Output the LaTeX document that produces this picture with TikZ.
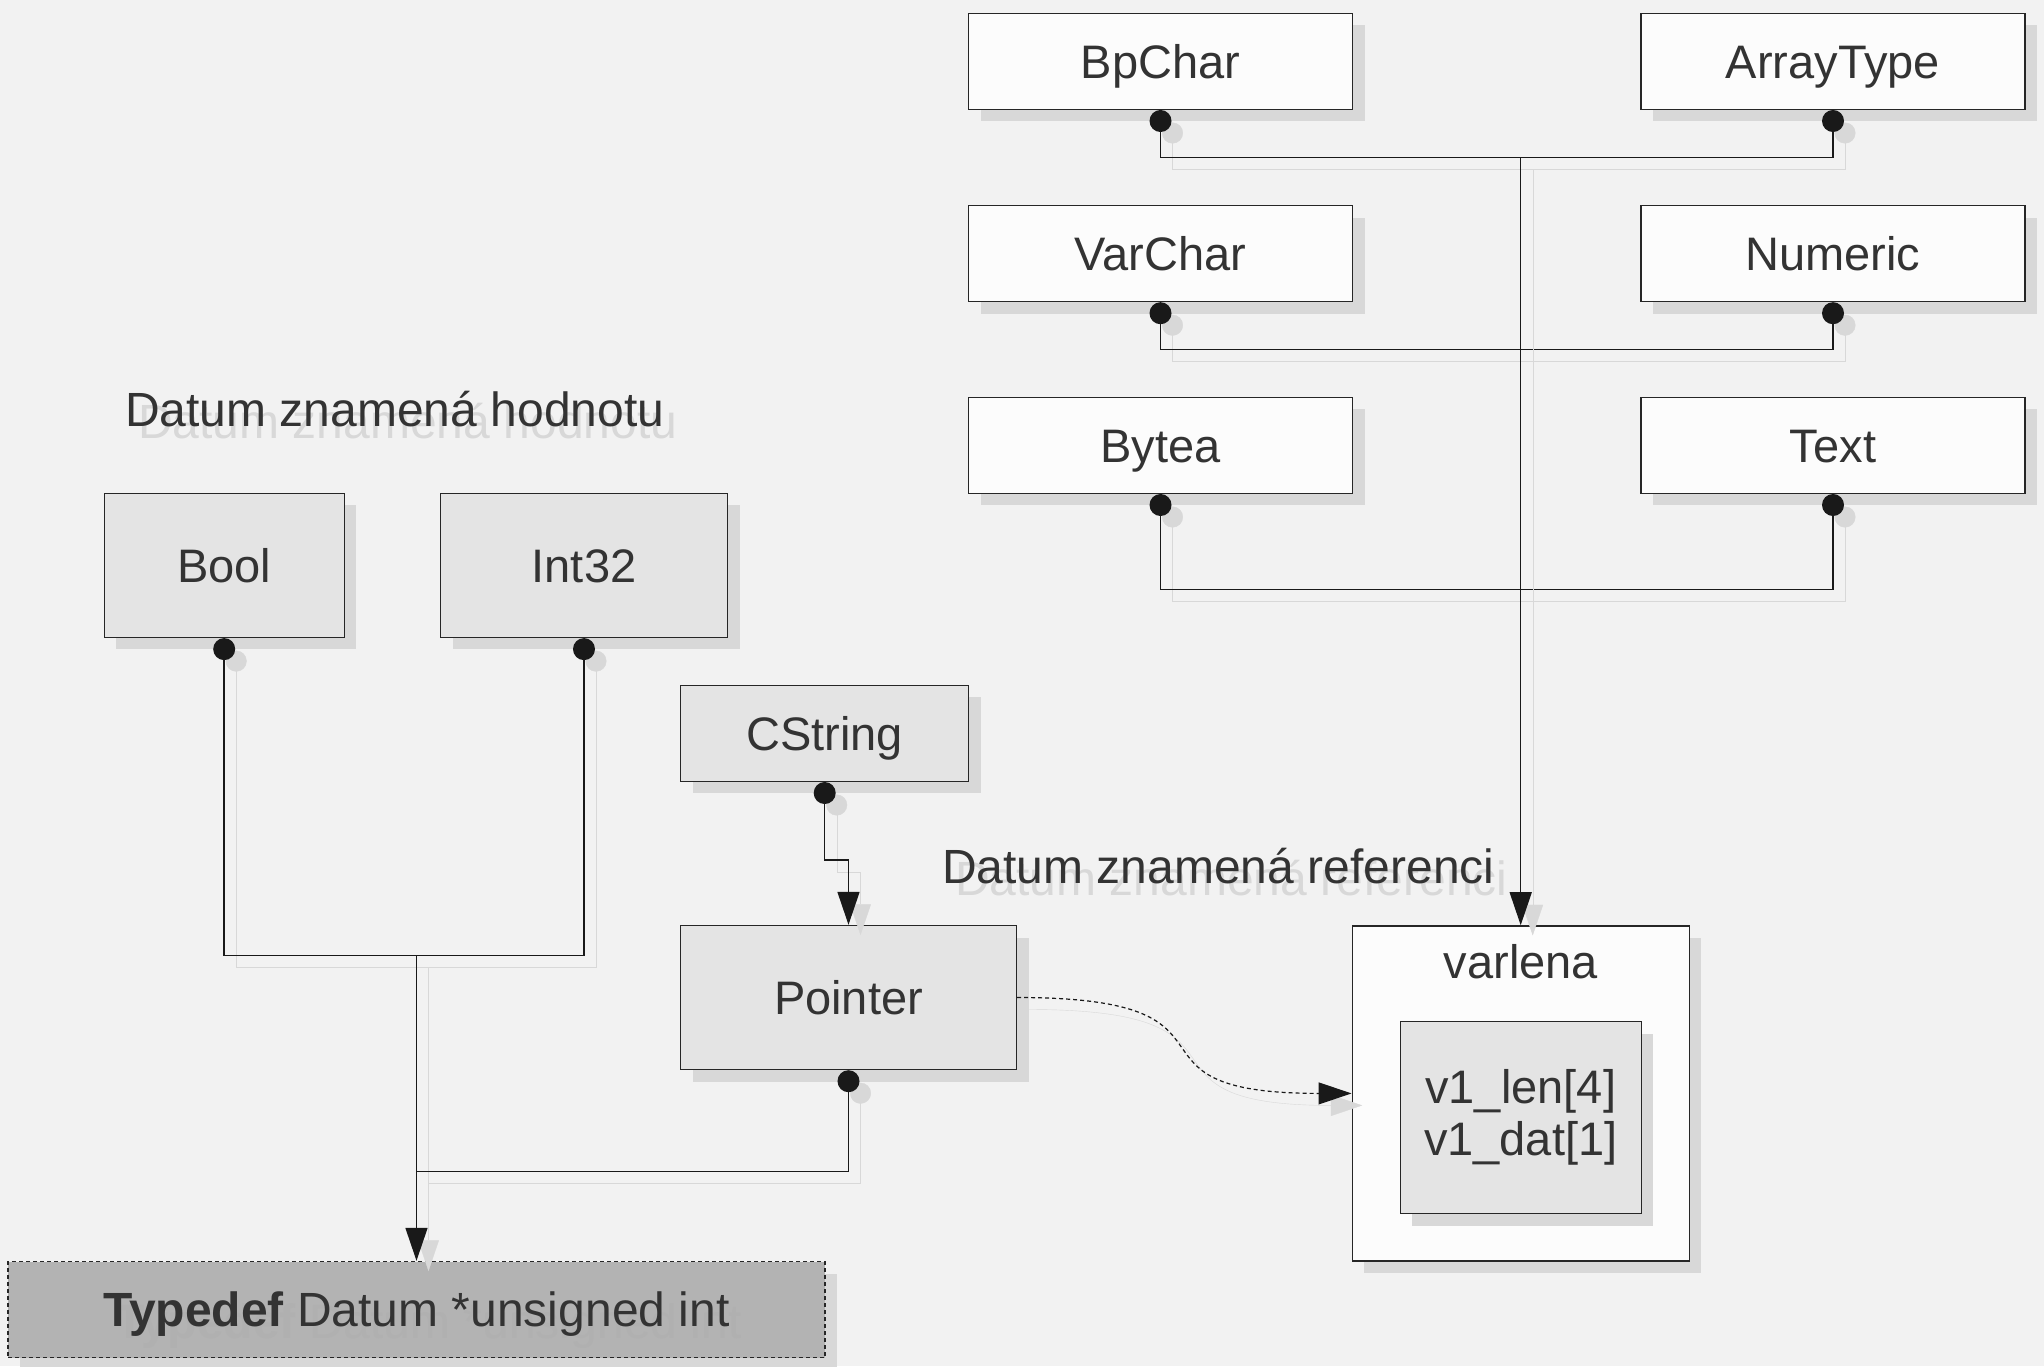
\documentclass[tikz,border=0pt]{standalone}
\usepackage{fontspec}
\setmainfont{Liberation Sans}
\usetikzlibrary{arrows.meta,shadows}

\definecolor{pozadi}{HTML}{F2F2F2}
\definecolor{stin}{HTML}{D8D8D8}
\definecolor{bila}{HTML}{FCFCFC}
\definecolor{seda}{HTML}{E4E4E4}
\definecolor{tmava}{HTML}{B3B3B3}
\definecolor{popis}{HTML}{333333}

\begin{document}
\begin{tikzpicture}[x=1pt,y=-1pt,
  ramec/.style={draw=black!85, line width=1.4pt, inner sep=0pt, text=popis,
    font=\fontsize{47}{52}\selectfont,
    drop shadow={shadow xshift=12pt, shadow yshift=-12pt, fill=stin, opacity=1}},
  typ/.style={ramec, fill=bila, text height=33.6pt, text depth=0pt,
    minimum width=384pt, minimum height=96pt},
  hodnota/.style={ramec, fill=seda, text height=33.6pt, text depth=0pt},
  nadpis/.style={anchor=base west, inner sep=0pt, text=popis,
    font=\fontsize{48}{52}\selectfont},
  spoj/.style={line width=1.5pt, black!90,
    preaction={draw=stin, transform canvas={shift={(12pt,-12pt)}}}},
  tecka/.tip={Circle[length=22pt]},
  sipka/.tip={Triangle[length=33pt,width=22pt]}]
\useasboundingbox (0,0) rectangle (2044,1366);
\fill[pozadi] (0,0) rectangle (2044,1366);

% typy predavane referenci
\node[typ] (bpchar) at (1160.5,61.3) {BpChar};
\node[typ] (arraytype) at (1833,61.3) {ArrayType};
\node[typ] (varchar) at (1160.5,253.5) {VarChar};
\node[typ] (numeric) at (1833,253.5) {Numeric};
\node[typ] (bytea) at (1160.5,445.3) {Bytea};
\node[typ] (text) at (1833,445.3) {Text};

% typy predavane hodnotou
\node[hodnota, minimum width=240pt, minimum height=144pt] (bool) at (224.2,565.4) {Bool};
\node[hodnota, minimum width=287pt, minimum height=144pt] (int32) at (584,565.4) {Int32};
\node[hodnota, minimum width=288pt, minimum height=96pt] (cstring) at (824.7,733.3) {CString};
\node[hodnota, minimum width=336pt, minimum height=144pt] (pointer) at (848.5,997.5) {Pointer};

\node[ramec, fill=bila, minimum width=337pt, minimum height=335pt] (varlena) at (1520.7,1093.4) {};
\node[nadpis, anchor=base, font=\fontsize{47}{52}\selectfont] (varlenapopis) at (1521,978.3) {varlena};
\node[ramec, fill=seda, align=center, minimum width=241pt, minimum height=192pt] (pole) at (1520.7,1117.5) {v1\_len[4]\\v1\_dat[1]};

\node[ramec, fill=tmava, dash pattern=on 4pt off 3pt, minimum width=817pt, minimum height=96pt] (typedef) at (416.5,1309.5) {};
\node[nadpis, anchor=center, text=black!31, text height=34pt, text depth=0pt] (typedefstin) at (428.5,1321.5) {{\bfseries Typedef} Datum *unsigned int};
\node[nadpis, anchor=center, text height=34pt, text depth=0pt] (typedefpopis) at (typedef) {{\bfseries Typedef} Datum *unsigned int};

\node[nadpis, text=stin] (hodnotustin) at (138,438) {Datum znamená hodnotu};
\node[nadpis] (hodnotu) at (125,426) {Datum znamená hodnotu};
\node[nadpis, text=stin] (referencistin) at (955,895) {Datum znamená referenci};
\node[nadpis] (referenci) at (942,883) {Datum znamená referenci};

\coordinate (sber1) at (1520.7,157.5);
\coordinate (sber2) at (1520.7,349.3);
\coordinate (sber3) at (1520.7,589.3);
\coordinate (sber4) at (416.5,955.3);
\coordinate (sber5) at (416.5,1171.3);

\draw[spoj, tecka-tecka] (bpchar.south) |- (sber1) -| (arraytype.south);
\draw[spoj, tecka-tecka] (varchar.south) |- (sber2) -| (numeric.south);
\draw[spoj, tecka-tecka] (bytea.south) |- (sber3) -| (text.south);
\draw[spoj, -sipka] (sber1) -- (varlena.north);

\draw[spoj, tecka-tecka] (bool.south) |- (sber4) -| (int32.south);
\draw[spoj, -sipka] (sber4) -- (typedef.north);
\draw[spoj, tecka-] (pointer.south) |- (sber5);
\draw[spoj, tecka-sipka] (cstring.south) -- ++(0,78) -| (pointer.north);
\draw[spoj, line width=1.2pt, dash pattern=on 4pt off 3pt, -sipka] (pointer.east) .. controls +(250,0) and +(-250,0) .. (varlena.west);
\end{tikzpicture}
\end{document}
